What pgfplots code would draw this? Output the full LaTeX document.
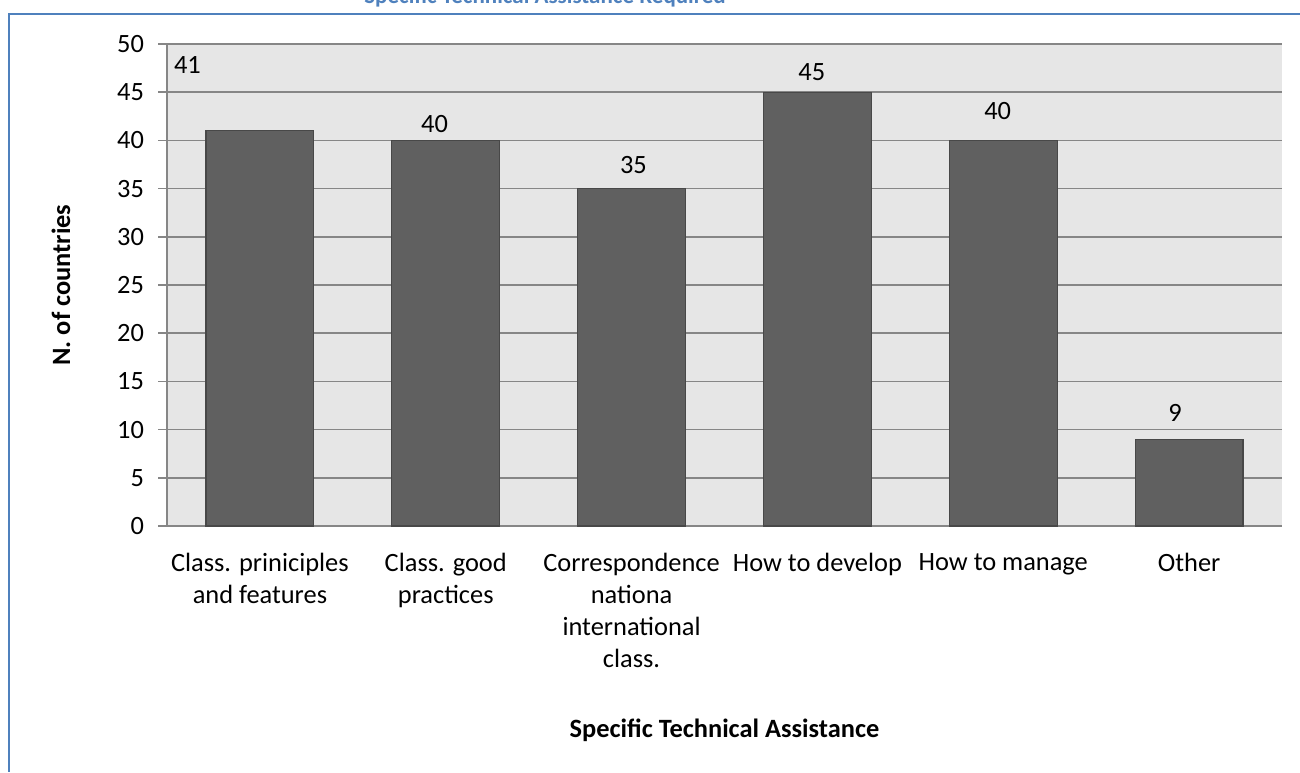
\documentclass[border=0pt]{standalone}
\usepackage{pgfplots}
\pgfplotsset{compat=1.18}
\usepackage{fontspec}
\setmainfont{Carlito}
\definecolor{framebl}{RGB}{79,129,189}
\definecolor{bgg}{RGB}{230,230,230}
\definecolor{gridg}{RGB}{134,134,134}
\definecolor{barg}{RGB}{96,96,96}
\definecolor{bare}{RGB}{72,72,72}
\newcommand{\fs}{\fontsize{13.2}{16}\selectfont}
\begin{document}
\begin{tikzpicture}
\path[use as bounding box] (0,0) rectangle (650pt,386pt);
\begin{scope}
\clip (0,0) rectangle (650pt,386pt);
\node[anchor=base, font=\fontsize{11.5}{14}\selectfont\bfseries, text=framebl, inner sep=0pt] at (272.5pt,384pt) {Specific Technical Assistance Required};
\end{scope}
\draw[framebl, line width=1pt] (650pt,379pt) -- (4.5pt,379pt) -- (4.5pt,0pt);
\begin{axis}[
  at={(83.5pt,123pt)}, anchor=south west,
  scale only axis, width=557.5pt, height=241pt,
  xmin=-0.5, xmax=5.5, ymin=0, ymax=50,
  ytick={0,5,...,50},
  xtick={0,1,2,3,4,5},
  xticklabels={{Class. priniciples\\and features},{Class. good\\practices},{Correspondence\\nationa\\international\\class.},{How to develop},{How to manage},{Other}},
  xticklabel style={align=center, anchor=north, yshift=-5.5pt, font=\fs},
  yticklabel style={xshift=-3.5pt, font=\fs},
  /pgf/number format/assume math mode=true,
  axis lines*=left,
  axis line style={gridg, line width=0.8pt},
  x axis line style={-}, y axis line style={-},
  ymajorgrids, major grid style={gridg, line width=0.8pt},
  major x tick style={draw=none},
  ytick style={gridg, line width=0.8pt},
  tick align=outside, major tick length=4.5pt,
  axis background/.style={fill=bgg},
  ybar, bar width=0.58,
]
\addplot[fill=barg, draw=bare, line width=0.6pt] coordinates {(0,41) (1,40) (2,35) (3,45) (4,40) (5,9)};
\node[font=\fs] at (axis cs:-0.39,47.8) {41};
\node[font=\fs] at (axis cs:0.94,41.7) {40};
\node[font=\fs] at (axis cs:2.01,37.4) {35};
\node[font=\fs] at (axis cs:2.97,47.1) {45};
\node[font=\fs] at (axis cs:3.97,43.0) {40};
\node[font=\fs] at (axis cs:4.925,11.7) {9};
\end{axis}
\node[rotate=90, font=\fs\bfseries] at (30.5pt,243.5pt) {N. of countries};
\node[font=\fs\bfseries] at (362.25pt,21pt) {Specific Technical Assistance};
\end{tikzpicture}
\end{document}
